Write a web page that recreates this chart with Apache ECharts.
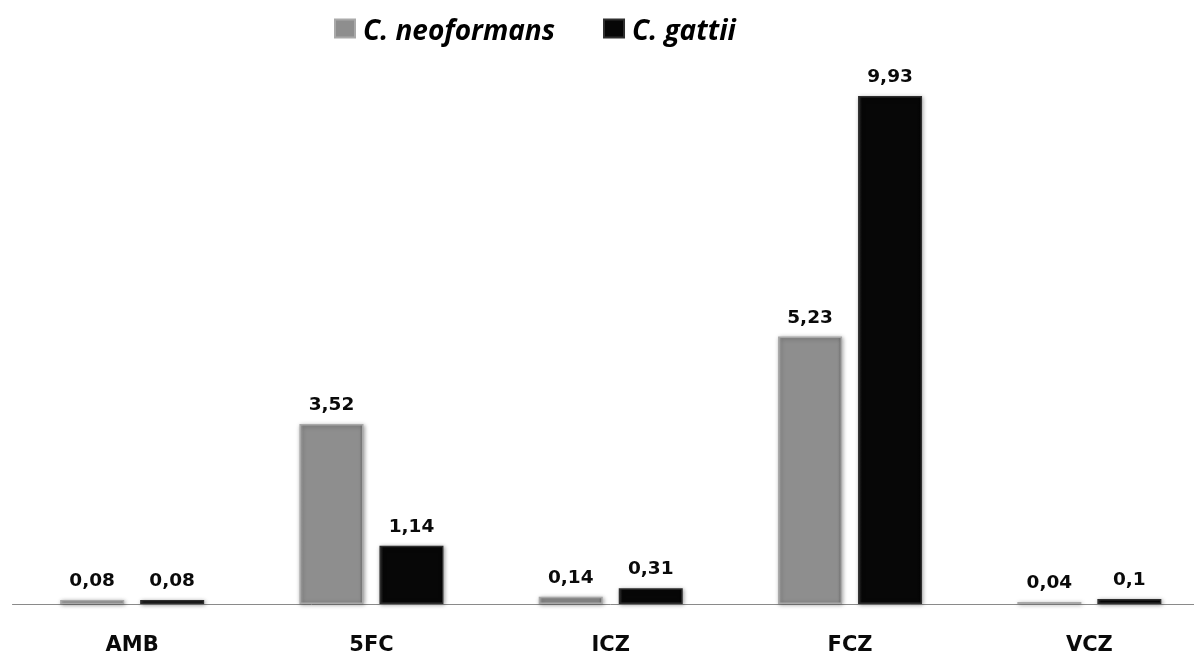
<!DOCTYPE html>
<html>
<head>
<meta charset="utf-8">
<script src="https://cdn.jsdelivr.net/npm/echarts@6/dist/echarts.min.js"></script>
<style>
  html, body { margin: 0; padding: 0; background: #fff; overflow: hidden; }
  /* the plot runs slightly past the right edge of the window */
  #chart { width: 1209px; height: 656px; }
</style>
</head>
<body>
<div id="chart"></div>
<script>
// Antifungal drugs on the x axis, one bar per species
const categories = ['AMB', '5FC', 'ICZ', 'FCZ', 'VCZ'];
const seriesNames = ['C. neoformans', 'C. gattii'];
const neoformans = [0.08, 3.52, 0.14, 5.23, 0.04];
const gattii = [0.08, 1.14, 0.31, 9.93, 0.1];

// Values are printed with a decimal comma
function fmt(v) { return String(v).replace('.', ','); }

function bevelFill(base, light, dark) {
  return {
    type: 'linear', x: 0, y: 0, x2: 1, y2: 0,
    colorStops: [
      { offset: 0, color: light },
      { offset: 0.06, color: base },
      { offset: 0.94, color: base },
      { offset: 1, color: dark }
    ]
  };
}

const labelStyle = {
  show: true,
  position: 'top',
  distance: 9,
  formatter: p => fmt(p.value),
  fontFamily: 'DejaVu Sans',
  fontWeight: 'bold',
  fontSize: 18.5,
  color: '#0a0a0a'
};

const chart = echarts.init(document.getElementById('chart'), null, { renderer: 'canvas' });
chart.setOption({
  animation: false,
  backgroundColor: '#ffffff',
  legend: {
    top: 11,
    left: 334,
    padding: 0,
    itemWidth: 20,
    itemHeight: 18,
    itemGap: 48,
    icon: 'rect',
    formatter: name => '{t|' + name + '}',
    textStyle: {
      rich: {
        t: {
          fontFamily: 'Open Sans',
          fontStyle: 'italic',
          fontWeight: 'bold',
          fontSize: 28,
          lineHeight: 28,
          padding: [7, 0, 0, 3],
          color: '#000'
        }
      }
    },
    data: seriesNames
  },
  grid: {
    left: 12.5,
    top: 41.2,
    bottom: 52,
    right: 0,
    containLabel: false
  },
  xAxis: {
    type: 'category',
    data: categories,
    axisLine: { show: true, lineStyle: { color: '#8a8a8a', width: 1 } },
    axisTick: { show: false },
    axisLabel: {
      margin: 31,
      fontFamily: 'DejaVu Sans',
      fontWeight: 'bold',
      fontSize: 21,
      color: '#0a0a0a'
    }
  },
  yAxis: {
    type: 'value',
    min: 0,
    max: 11,
    show: false,
    splitLine: { show: false }
  },
  series: [
    {
      name: seriesNames[0],
      type: 'bar',
      data: neoformans,
      barWidth: 64,
      barGap: '25%',
      itemStyle: {
        color: bevelFill('#8e8e8e', '#b4b4b4', '#6e6e6e'),
        borderColor: '#a9a9a9',
        borderWidth: 1.5,
        shadowColor: 'rgba(0,0,0,0.35)',
        shadowBlur: 4,
        shadowOffsetX: 1,
        shadowOffsetY: 1
      },
      label: labelStyle
    },
    {
      name: seriesNames[1],
      type: 'bar',
      data: gattii,
      barWidth: 64,
      barGap: '25%',
      itemStyle: {
        color: bevelFill('#070707', '#3a3a3a', '#000000'),
        borderColor: '#2e2e2e',
        borderWidth: 1.5,
        shadowColor: 'rgba(0,0,0,0.35)',
        shadowBlur: 4,
        shadowOffsetX: 1,
        shadowOffsetY: 1
      },
      label: labelStyle
    }
  ]
});
</script>
</body>
</html>
